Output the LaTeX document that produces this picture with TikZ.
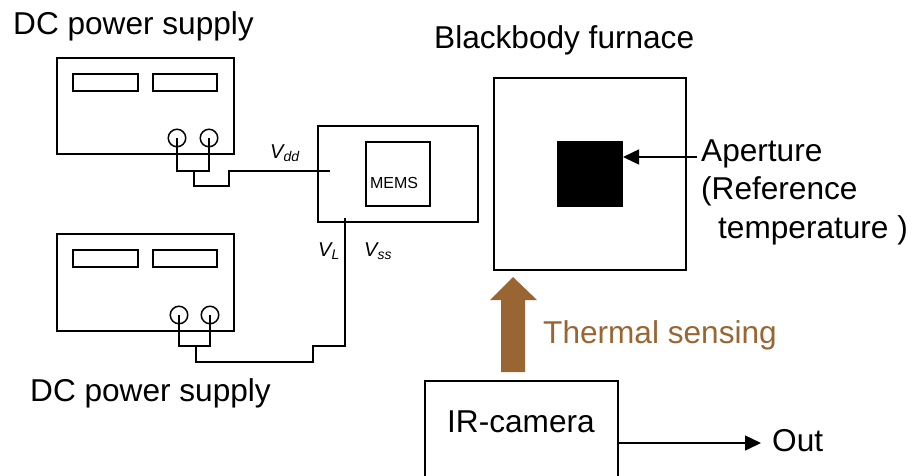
\documentclass[tikz,border=0pt]{standalone}
\usepackage{fontspec}
\setmainfont{Liberation Sans}
\usetikzlibrary{arrows.meta}
\definecolor{brownc}{HTML}{996633}
\tikzset{
 x=1pt,y=-1pt,
 boxn/.style={draw=black,line width=1.5pt,fill=none,inner sep=0pt,outer sep=0pt,anchor=north west},
 term/.style={circle,draw=black,line width=1.5pt,minimum size=17.5pt,inner sep=0pt,outer sep=0pt},
 wire/.style={draw=black,line width=1.5pt},
 big/.style={anchor=base west,inner sep=0pt,font=\fontsize{31.6}{36}\selectfont},
 volt/.style={anchor=base west,inner sep=0pt,font=\fontsize{20}{24}\itshape\selectfont},
}
\begin{document}
\begin{tikzpicture}
\useasboundingbox (0,0) rectangle (924,475);
% power supply 1
\node[boxn,minimum width=177pt,minimum height=96pt] (psa) at (57,58) {};
\node[boxn,minimum width=65pt,minimum height=17pt] (dispa1) at (73,74) {};
\node[boxn,minimum width=64pt,minimum height=17pt] (dispa2) at (153,74) {};
\node[term] (ta1) at (177,138) {};
\node[term] (ta2) at (209,138) {};
% power supply 2
\node[boxn,minimum width=177pt,minimum height=97pt] (psb) at (57,234) {};
\node[boxn,minimum width=65pt,minimum height=17pt] (dispb1) at (73,250) {};
\node[boxn,minimum width=64pt,minimum height=17pt] (dispb2) at (153,250) {};
\node[term] (tb1) at (179,315) {};
\node[term] (tb2) at (210,315) {};
% MEMS
\node[boxn,minimum width=160pt,minimum height=96pt] (dut) at (318,126) {};
\node[boxn,minimum width=64pt,minimum height=64pt] (mems) at (366,142) {};
\node[inner sep=0pt,font=\fontsize{16}{18}\selectfont] (memst) at (394,183) {MEMS};
% furnace
\node[boxn,minimum width=192pt,minimum height=192pt] (furn) at (494,78) {};
\node[boxn,draw=none,fill=black,minimum width=66pt,minimum height=66pt] (apert) at (557,141) {};
% camera
\node[boxn,minimum width=193pt,minimum height=100pt] (cam) at (425,381) {};
% coordinates
\coordinate (a1) at (177,171); \coordinate (a2) at (209,171);
\coordinate (aj) at (194,171); \coordinate (ad) at (194,186);
\coordinate (ae) at (229,186); \coordinate (af) at (229,171);
\coordinate (ag) at (330,171);
\coordinate (th1) at (249,171); \coordinate (th2) at (278,171);
\coordinate (b1) at (179,346); \coordinate (b2) at (210,346);
\coordinate (bj) at (196,346); \coordinate (bd) at (196,362);
\coordinate (be) at (313,362); \coordinate (bf) at (313,346);
\coordinate (bg) at (345,346); \coordinate (bh) at (345,218);
\coordinate (apfrom) at (697,157);
\coordinate (outto) at (761,443); \coordinate (outfrom) at (618,443);
% wires
\draw[wire] (ta1.center) -- (a1) -- (a2) -- (ta2.center);
\draw[wire,line join=miter] (aj) -- (ad) -- (ae) -- (af) -- (ag);
\draw[draw=black,line width=2.6pt] (th1) -- (th2);
\draw[wire] (tb1.center) -- (b1) -- (b2) -- (tb2.center);
\draw[wire] (bj) -- (bd) -- (be) -- (bf) -- (bg) -- (bh);
% arrows
\draw[line width=1.5pt,-{Triangle[length=16pt,width=15pt]}] (apfrom) -- (apert.east |- apfrom);
\draw[line width=1.5pt,-{Triangle[length=16pt,width=15pt]}] (outfrom) -- (outto);
\fill[brownc] (501,372) -- (525,372) -- (525,300) -- (537,300) -- (513,277) -- (490,300) -- (501,300) -- cycle;
% labels
\node[big] (l1) at (13,34) {DC power supply};
\node[big] (l2) at (30,401) {DC power supply};
\node[big] (l3) at (434,48) {Blackbody furnace};
\node[big] (l4) at (701,161) {Aperture};
\node[big] (l5) at (701,199) {(Reference};
\node[big] (l6) at (718,238) {temperature )};
\node[big,text=brownc] (l7) at (543,343) {Thermal sensing};
\node[big] (l8) at (447,432) {IR-camera};
\node[big] (l9) at (772,451) {Out};
\node[volt] (vdd) at (270,158.5) {V\textsubscript{dd}};
\node[volt] (vl) at (318,256) {V\textsubscript{L}};
\node[volt] (vss) at (364,256) {V\textsubscript{ss}};
\end{tikzpicture}
\end{document}
